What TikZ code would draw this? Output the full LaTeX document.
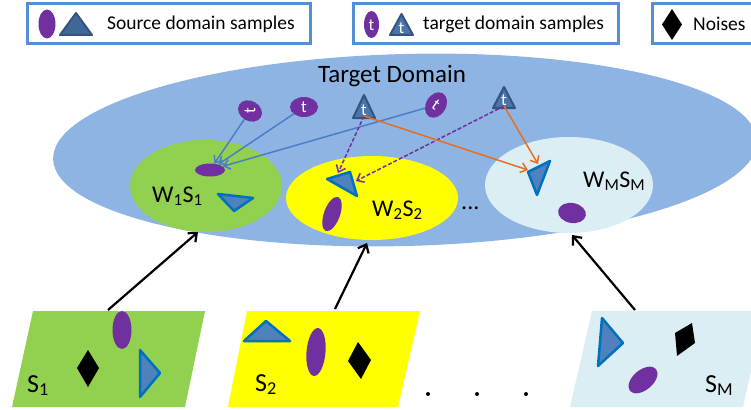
\documentclass[tikz,border=0pt]{standalone}
\usepackage{fontspec}
\setmainfont{Carlito}
\usetikzlibrary{shapes.geometric,arrows.meta}
\definecolor{purp}{HTML}{7030A0}
\definecolor{bigblue}{HTML}{8EB4E3}
\definecolor{lgreen}{HTML}{92D050}
\definecolor{lblue}{HTML}{DBEEF4}
\definecolor{yel}{HTML}{FFFF00}
\definecolor{legbd}{HTML}{558ED5}
\definecolor{trifill}{HTML}{4F81BD}
\definecolor{tribd}{HTML}{0070C0}
\definecolor{ttfill}{HTML}{4A74AA}
\definecolor{ttbd}{HTML}{33557F}
\definecolor{arrblue}{HTML}{4A7EC7}
\definecolor{arrorange}{HTML}{E66F1E}
\tikzset{
  legbox/.style={draw=legbd, line width=3pt, fill=white, rectangle, inner sep=0},
  pell/.style={ellipse, fill=purp, inner sep=0},
  region/.style={ellipse, inner sep=0},
  lbl/.style={font=\fontsize{19.5}{22}\selectfont, inner sep=0, text=black},
  biglbl/.style={font=\fontsize{24}{28}\selectfont, inner sep=0, text=black},
  tlbl/.style={font=\fontsize{17}{19}\selectfont, inner sep=0, text=white},
  srctri/.style={fill=trifill, draw=tribd, line width=2.5pt, line join=round},
  tgttri/.style={fill=ttfill, draw=ttbd, line width=2pt, line join=round},
  noise/.style={fill=black},
  bluearr/.style={draw=arrblue, line width=1.5pt, -{Straight Barb[length=6pt,width=10pt]}},
  purparr/.style={draw=purp, line width=1.5pt, dashed, dash pattern=on 4pt off 2pt, -{Straight Barb[length=6pt,width=10pt]}},
  orarr/.style={draw=arrorange, line width=1.5pt, -{Straight Barb[length=6pt,width=10pt]}},
  blkarr/.style={draw=black, line width=2.2pt, -{Straight Barb[length=7pt,width=12pt]}},
}
\begin{document}
\begin{tikzpicture}[x=1pt,y=-1pt]
\useasboundingbox (0,0) rectangle (751,409);
% legend
\node[legbox, minimum width=283pt, minimum height=40pt] (leg1) at (168.5,24) {};
\node[pell, minimum width=17pt, minimum height=29pt] (legsrcell) at (47,24) {};
\filldraw[tgttri, fill=trifill!80!black] (60,35) -- (76,13) -- (92,35) -- cycle;
\node[lbl, anchor=west] (legsrctxt) at (107,24) {Source domain samples};
\node[legbox, minimum width=265pt, minimum height=40pt] (leg2) at (485.5,24) {};
\node[pell, minimum width=15pt, minimum height=27pt] (legtgtell) at (371.5,24.5) {};
\node[tlbl] (legtgtellt) at (371.5,25) {t};
\filldraw[tgttri] (390,35) -- (401.5,14) -- (413,35) -- cycle;
\node[tlbl] (legtgttrit) at (401.5,28) {t};
\node[lbl, anchor=west] (legtgttxt) at (423,24) {target domain samples};
\node[legbox, minimum width=118pt, minimum height=40pt] (leg3) at (711,24) {};
\fill[noise] (662,24.5) -- (672,9) -- (682,24.5) -- (672,40) -- cycle;
\node[lbl, anchor=west] (legnoisetxt) at (693,24) {Noises};
% target domain
\node[region, fill=bigblue, minimum width=704pt, minimum height=192pt, rotate=1.5] (target) at (405,150) {};
\node[font=\fontsize{25}{30}\selectfont, inner sep=0, anchor=base, text=black] (targettxt) at (392,83) {Target Domain};
\node[region, fill=lgreen, minimum width=152pt, minimum height=92pt] (w1) at (206,186) {};
\node[region, fill=yel, minimum width=172pt, minimum height=84pt] (w2) at (372,198) {};
\node[region, fill=lblue, minimum width=168pt, minimum height=96pt] (wm) at (569,185) {};
\node[biglbl, anchor=base west] (w1txt) at (152,202) {W\textsubscript{1}S\textsubscript{1}};
\node[biglbl, anchor=base west] (w2txt) at (372,216) {W\textsubscript{2}S\textsubscript{2}};
\node[biglbl, anchor=base west] (wmtxt) at (583,187) {W\textsubscript{M}S\textsubscript{M}};
\node[biglbl, anchor=base west] (wdots) at (461,209) {...};
% contents of weighted regions
\node[pell, minimum width=30pt, minimum height=13pt] (p1) at (210,170) {};
\filldraw[srctri] (218,194) -- (253,198) -- (234,211) -- cycle;
\filldraw[srctri] (327,179) -- (350,172) -- (357,196) -- cycle;
\node[pell, minimum width=16pt, minimum height=36pt, rotate=-20] (p2) at (332,214) {};
\filldraw[srctri] (528,172) -- (550,161) -- (537,195) -- cycle;
\node[pell, minimum width=28pt, minimum height=20pt, rotate=-10] (pm) at (572,213) {};
% target samples
\node[pell, minimum width=25pt, minimum height=20pt, rotate=-30] (te1) at (250,111) {};
\node[tlbl, rotate=90] (te1t) at (250,111) {t};
\node[pell, minimum width=28pt, minimum height=20pt] (te2) at (304,107) {};
\node[tlbl] (te2t) at (304,107) {t};
\node[pell, minimum width=27pt, minimum height=20pt, rotate=60] (te3) at (436,105) {};
\node[tlbl, rotate=-35] (te3t) at (436,105) {t};
\filldraw[tgttri] (353,118) -- (364,95) -- (375,118) -- cycle;
\node[tlbl] (tt1t) at (364,110) {t};
\filldraw[tgttri] (493,108) -- (504,87) -- (515,108) -- cycle;
\node[tlbl] (tt2t) at (504,100) {t};
\coordinate (tt1b) at (364,116);
\coordinate (tt2b) at (504,106);
\coordinate (y1) at (338,173);
\coordinate (y2) at (356,181);
\coordinate (m1) at (528,170);
\coordinate (m2) at (538,164);
% arrows in target domain
\draw[bluearr] (te1) -- (p1);
\draw[bluearr] (te2) -- (p1);
\draw[bluearr] (te3) -- (p1);
\draw[purparr] (tt1b) -- (y1);
\draw[purparr] (tt2b) -- (y2);
\draw[orarr] (tt1b) -- (m1);
\draw[orarr] (tt2b) -- (m2);
% source domains
\fill[lgreen] (33,311) -- (205,311) -- (185,407) -- (12,407) -- cycle;
\fill[yel] (247,311) -- (420,311) -- (398,407) -- (228,407) -- cycle;
\fill[lblue] (592,311) -- (765,311) -- (743,407) -- (570,407) -- cycle;
\coordinate (s1top) at (108,310);
\coordinate (s2top) at (335,309);
\coordinate (smtop) at (635,310);
\coordinate (w1bot) at (198,232);
\coordinate (w2bot) at (367,243);
\coordinate (wmbot) at (572,235);
\draw[blkarr] (s1top) -- (w1bot);
\draw[blkarr] (s2top) -- (w2bot);
\draw[blkarr] (smtop) -- (wmbot);
% S1 content
\node[pell, minimum width=19pt, minimum height=38pt] (s1p) at (122,330) {};
\fill[noise] (88,350) -- (99,368) -- (88,387) -- (77,368) -- cycle;
\filldraw[srctri] (140,350) -- (160,373) -- (140,397) -- cycle;
\node[font=\fontsize{26}{30}\selectfont, inner sep=0, anchor=base west, text=black] (s1txt) at (27,392) {S\textsubscript{1}};
% S2 content
\filldraw[srctri] (244,341) -- (266,321) -- (290,341) -- cycle;
\node[pell, minimum width=19pt, minimum height=48pt, rotate=-5] (s2p) at (316,352) {};
\fill[noise] (358,342) -- (371,360) -- (361,379) -- (348,361) -- cycle;
\node[font=\fontsize{26}{30}\selectfont, inner sep=0, anchor=base west, text=black] (s2txt) at (255,391) {S\textsubscript{2}};
\fill (428,394) circle (2);
\fill (477,394) circle (2);
\fill (526,394) circle (2);
% SM content
\filldraw[srctri] (602,318) -- (623,343) -- (598,366) -- cycle;
\fill[noise] (675,333) -- (692,323) -- (695,343) -- (677,356) -- cycle;
\node[pell, minimum width=34pt, minimum height=20pt, rotate=40] (smp) at (643,380) {};
\node[font=\fontsize{26}{30}\selectfont, inner sep=0, anchor=base west, text=black] (smtxt) at (705,392) {S\textsubscript{M}};
\end{tikzpicture}
\end{document}
